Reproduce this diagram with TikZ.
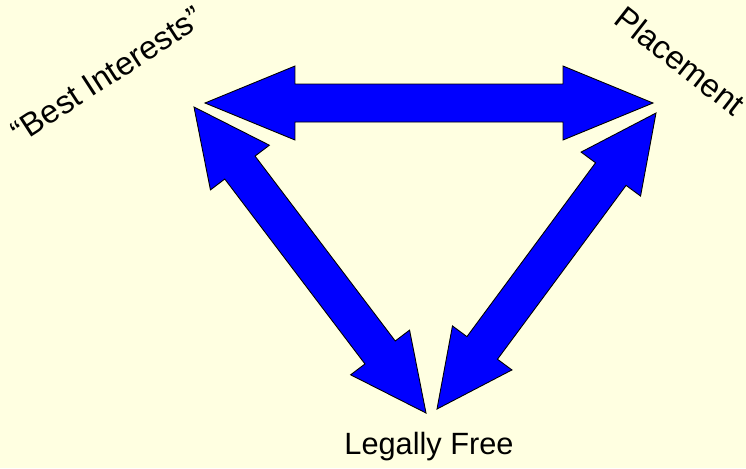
\documentclass[tikz,border=0pt]{standalone}
\usepackage{fontspec}
\setmainfont{Liberation Sans}
\usetikzlibrary{calc}
\definecolor{paper}{RGB}{255,255,225}
\definecolor{arrowblue}{RGB}{0,0,255}
\tikzstyle{lbl}=[font=\fontsize{17.5}{21}\selectfont, inner sep=0pt, anchor=base]
\tikzstyle{tilted}=[lbl, font=\fontsize{18.5}{22}\selectfont]
\tikzstyle{block}=[draw=black, fill=arrowblue, line width=0.5pt, line join=miter]
\newcommand{\headhw}{0.74cm}
\newcommand{\shafthw}{0.38cm}
% double headed block arrow between two named coordinates, #3 = head length
\newcommand{\dblarrow}[3]{%
  \path ($(#1)!#3!(#2)$) coordinate (h1) ($(#2)!#3!(#1)$) coordinate (h2);
  \path[block] (#1) -- ($(h1)!\headhw!90:(#1)$) -- ($(h1)!\shafthw!90:(#1)$)
    -- ($(h2)!\shafthw!-90:(#2)$) -- ($(h2)!\headhw!-90:(#2)$) -- (#2)
    -- ($(h2)!\headhw!90:(#2)$) -- ($(h2)!\shafthw!90:(#2)$)
    -- ($(h1)!\shafthw!-90:(#1)$) -- ($(h1)!\headhw!-90:(#1)$) -- cycle;
}

\begin{document}
\begin{tikzpicture}[x=0.02cm, y=-0.02cm]
  \fill[paper] (0,0) rectangle (746,468);
  \useasboundingbox (0,0) rectangle (746,468);

  \node[tilted, rotate=33] (best) at (113,84) {“Best Interests”};
  \node[tilted, rotate=-38] (place) at (673,70) {Placement};
  \node[lbl] (free) at (429,454) {Legally Free};

  % arrow tips
  \coordinate (bl) at (205,103);
  \coordinate (pl) at (653,103);
  \coordinate (bd) at (194,107);
  \coordinate (fl) at (426,413);
  \coordinate (pd) at (656,113);
  \coordinate (fr) at (437,409);

  \dblarrow{bl}{pl}{1.8cm}
  \dblarrow{bd}{fl}{1.52cm}
  \dblarrow{pd}{fr}{1.52cm}
\end{tikzpicture}
\end{document}
